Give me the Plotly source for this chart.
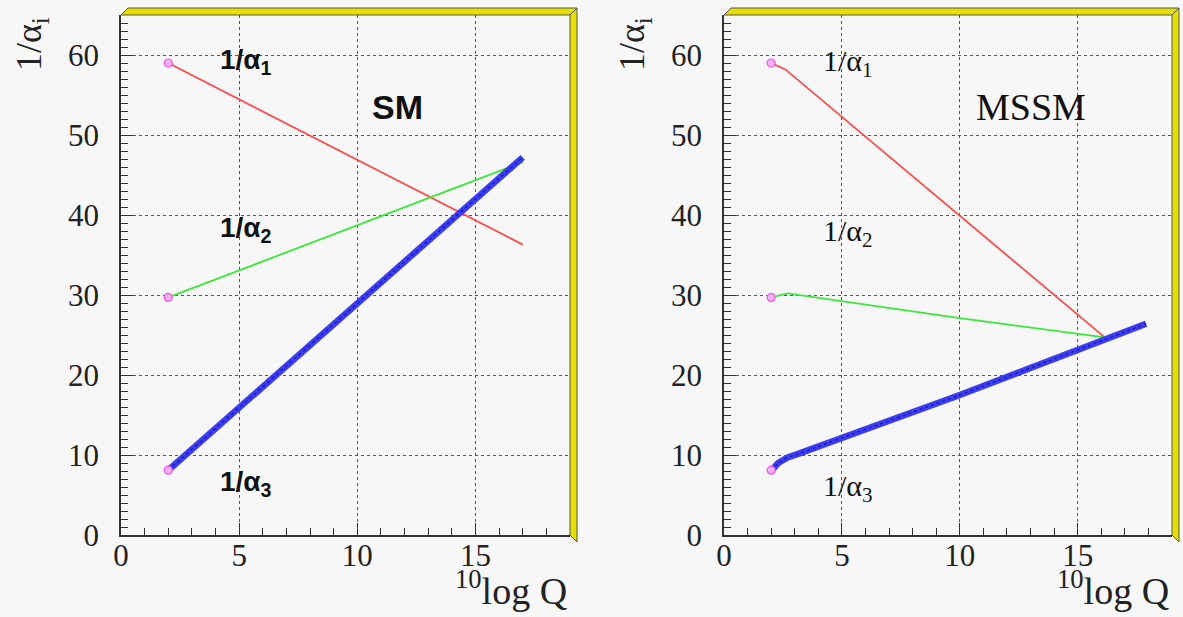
import plotly.graph_objects as go

# ---------------- data ----------------
# SM running of inverse couplings
sm_q = [2.0, 17.0]
sm_inv_a1 = [59.0, 36.3]
sm_inv_a2 = [29.7, 46.6]
sm_inv_a3 = [8.1, 47.2]

# MSSM running of inverse couplings
mssm_q_a1 = [2.0, 2.6, 16.15]
mssm_inv_a1 = [59.0, 58.2, 24.7]
mssm_q_a2 = [2.0, 2.7, 10.0, 16.15]
mssm_inv_a2 = [29.7, 30.2, 27.1, 24.7]
mssm_q_a3 = [2.0, 2.3, 2.7, 3.2, 10.0, 16.15, 17.9]
mssm_inv_a3 = [8.0, 9.0, 9.7, 10.2, 17.5, 24.5, 26.4]

start_q = [2.0, 2.0, 2.0]
start_vals = [59.0, 29.7, 8.1]

x_ticks = [0, 5, 10, 15]
y_ticks = [0, 10, 20, 30, 40, 50, 60]
x_range = [0, 19]
y_range = [0, 65]

# ---------------- layout geometry ----------------
W, H = 1183, 617
def px(x):
    return x / W
def py(y):
    return 1 - y / H

left_dom = [px(121), px(570)]
right_dom = [px(724), px(1172)]
y_dom = [py(535), py(15)]

BG = "#f7f7f7"
RED = "#ff4a4a"
GREEN = "#3ae83a"
BLUE = "#3c3cf2"
BLUE_DARK = "#1c1cb4"

fig = go.Figure()

def add_panel(xa, ya, series):
    for q, v, kind in series:
        if kind == "blue":
            fig.add_trace(go.Scatter(x=q, y=v, mode="lines", xaxis=xa, yaxis=ya,
                                     line=dict(color=BLUE, width=6.5), showlegend=False,
                                     hoverinfo="skip"))
            fig.add_trace(go.Scatter(x=q, y=v, mode="lines", xaxis=xa, yaxis=ya,
                                     line=dict(color=BLUE_DARK, width=1.5, dash="dot"),
                                     showlegend=False, hoverinfo="skip"))
        else:
            col = RED if kind == "red" else GREEN
            fig.add_trace(go.Scatter(x=q, y=v, mode="lines", xaxis=xa, yaxis=ya,
                                     line=dict(color=col, width=1.8), showlegend=False,
                                     hoverinfo="skip"))
    fig.add_trace(go.Scatter(x=start_q, y=start_vals, mode="markers", xaxis=xa, yaxis=ya,
                             marker=dict(symbol="circle", size=8, color="#f6b0f6",
                                         line=dict(color="#ee55ee", width=1.2)),
                             showlegend=False, hoverinfo="skip"))

add_panel("x", "y", [(sm_q, sm_inv_a1, "red"), (sm_q, sm_inv_a2, "green"),
                     (sm_q, sm_inv_a3, "blue")])
add_panel("x2", "y2", [(mssm_q_a1, mssm_inv_a1, "red"), (mssm_q_a2, mssm_inv_a2, "green"),
                       (mssm_q_a3, mssm_inv_a3, "blue")])

tick_font = dict(family="Liberation Serif", size=31, color="#222")

def xaxis(dom, anchor):
    return dict(domain=dom, anchor=anchor, range=x_range, tickvals=x_ticks,
                ticks="inside", ticklen=12, tickwidth=1.2, tickcolor="#333",
                showline=True, linecolor="#333", linewidth=1.5, mirror=False,
                showgrid=True, gridcolor="#555", griddash="dot", gridwidth=1,
                zeroline=False, tickfont=tick_font, ticklabelstandoff=-8,
                automargin=False,
                minor=dict(dtick=1, ticks="inside", ticklen=7, tickcolor="#333",
                           tickwidth=1.2, showgrid=False),
                fixedrange=True)

def yaxis(anchor):
    return dict(domain=y_dom, anchor=anchor, range=y_range, tickvals=y_ticks,
                ticks="inside", ticklen=12, tickwidth=1.2, tickcolor="#333",
                showline=True, linecolor="#333", linewidth=1.5, mirror=False,
                showgrid=True, gridcolor="#555", griddash="dot", gridwidth=1,
                zeroline=False, tickfont=tick_font, ticklabelstandoff=14,
                automargin=False,
                minor=dict(dtick=1, ticks="inside", ticklen=7, tickcolor="#333",
                           tickwidth=1.2, showgrid=False),
                fixedrange=True)

shapes = []
def frame(xl, xr, yb, yt, d=7):
    # yellow 3D frame border on top and right (pixel -> paper)
    top = f"M {px(xl)},{py(yt)} L {px(xl+d)},{py(yt-d)} L {px(xr+d)},{py(yt-d)} L {px(xr)},{py(yt)} Z"
    right = f"M {px(xr)},{py(yt)} L {px(xr+d)},{py(yt-d)} L {px(xr+d)},{py(yb+d)} L {px(xr)},{py(yb)} Z"
    for p in (top, right):
        shapes.append(dict(type="path", path=p, xref="paper", yref="paper",
                           fillcolor="#e3e000", line=dict(color="#555", width=1), layer="above"))

frame(121, 570, 535, 15)
frame(724, 1172, 535, 15)

annotations = []
def ann(text, x, y, xref, yref, size, family, xanchor="left", yanchor="middle", angle=0, color="#111"):
    annotations.append(dict(text=text, x=x, y=y, xref=xref, yref=yref, showarrow=False,
                            xanchor=xanchor, yanchor=yanchor, textangle=angle,
                            font=dict(family=family, size=size, color=color)))

# SM panel labels (bold sans)
ann("<b>1/α<sub>1</sub></b>", 4.1, 59.2, "x", "y", 28, "Liberation Sans")
ann("<b>1/α<sub>2</sub></b>", 4.1, 38.2, "x", "y", 28, "Liberation Sans")
ann("<b>1/α<sub>3</sub></b>", 4.1, 6.5, "x", "y", 28, "Liberation Sans")
ann("<b>SM</b>", 11.7, 53.5, "x", "y", 34, "Liberation Sans", xanchor="center")

# MSSM panel labels (serif)
ann("1/α<sub>1</sub>", 4.1, 59.0, "x2", "y2", 30, "Liberation Serif")
ann("1/α<sub>2</sub>", 4.1, 37.8, "x2", "y2", 30, "Liberation Serif")
ann("1/α<sub>3</sub>", 4.1, 5.9, "x2", "y2", 30, "Liberation Serif")
ann("MSSM", 13.0, 53.5, "x2", "y2", 38, "Liberation Serif", xanchor="center")

# axis titles
for xc in (31, 634):
    ann("1/α<sub>i</sub>", px(xc), py(15), "paper", "paper", 36, "Liberation Serif",
        xanchor="center", yanchor="top", angle=-90, color="#222")
for xr in (569, 1171):
    ann("<sup>10</sup>log Q", px(xr), py(614), "paper", "paper", 38, "Liberation Serif",
        xanchor="right", yanchor="bottom", color="#222")

fig.update_layout(
    template="none",
    width=W, height=H,
    margin=dict(l=0, r=0, t=0, b=0, pad=0),
    paper_bgcolor=BG, plot_bgcolor=BG,
    xaxis=xaxis(left_dom, "y"), yaxis=yaxis("x"),
    xaxis2=xaxis(right_dom, "y2"), yaxis2=yaxis("x2"),
    shapes=shapes, annotations=annotations,
    showlegend=False,
)

fig.write_html("out.html")
